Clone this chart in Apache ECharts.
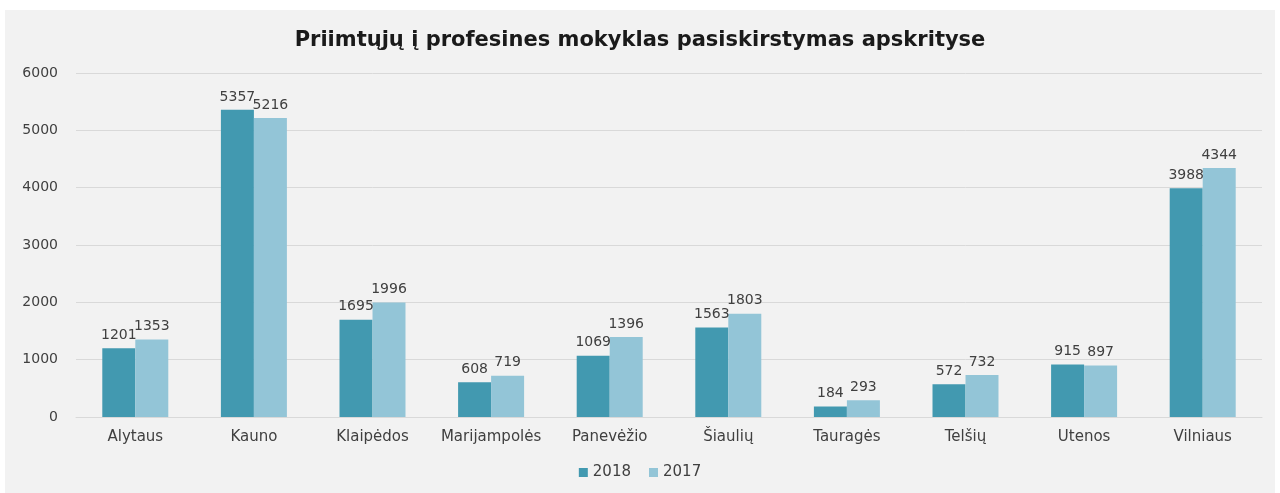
<!DOCTYPE html>
<html><head><meta charset="utf-8">
<script src="https://cdn.jsdelivr.net/npm/echarts@6/dist/echarts.min.js"></script>
<style>html,body{margin:0;padding:0;background:#fff;}#wrap{position:absolute;left:5px;top:10px;width:1270px;height:483px;background:#f2f2f2;}#c{width:1270px;height:483px;}</style>
</head><body><div id="wrap"><div id="c"></div></div>
<script>
const categories = ['Alytaus','Kauno','Klaipėdos','Marijampolės','Panevėžio','Šiaulių','Tauragės','Telšių','Utenos','Vilniaus'];
const values2018 = [1201,5357,1695,608,1069,1563,184,572,915,3988];
const values2017 = [1353,5216,1996,719,1396,1803,293,732,897,4344];
const yTicks = [0,1000,2000,3000,4000,5000,6000];
const chart = echarts.init(document.getElementById('c'));
const font = 'DejaVu Sans, sans-serif';
chart.setOption({
  backgroundColor: '#f2f2f2',
  animation: false,
  title: {text: 'Priimtųjų į profesines mokyklas pasiskirstymas apskrityse', left: 'center', top: 15,
    textStyle: {fontFamily: font, fontWeight: 'bold', fontSize: 21, color: '#1a1a1a'}},
  legend: {bottom: 8, left: 'center', itemWidth: 9, itemHeight: 9, itemGap: 18, icon: 'rect',
    textStyle: {fontFamily: font, fontSize: 15, color: '#404040'},
    data: ['2018','2017']},
  grid: {left: 71, right: 13, top: 63, bottom: 76},
  xAxis: {type: 'category', data: categories,
    axisLine: {lineStyle: {color: '#d9d9d9'}}, axisTick: {show: false},
    axisLabel: {interval: 0, fontFamily: font, fontSize: 15, color: '#404040', margin: 13}},
  yAxis: {type: 'value', min: yTicks[0], max: yTicks[yTicks.length-1], interval: 1000,
    axisLine: {show: false}, axisTick: {show: false},
    splitLine: {lineStyle: {color: '#d9d9d9'}},
    axisLabel: {fontFamily: font, fontSize: 14, color: '#404040', margin: 18, formatter: v => String(v)}},
  series: [
    {name: '2018', type: 'bar', data: values2018, barWidth: 33, barGap: '0%',
      itemStyle: {color: '#4299b0'},
      label: {show: true, position: 'top', fontFamily: font, fontSize: 14, color: '#404040', distance: 6}},
    {name: '2017', type: 'bar', data: values2017, barWidth: 33,
      itemStyle: {color: '#93c5d7'},
      label: {show: true, position: 'top', fontFamily: font, fontSize: 14, color: '#404040', distance: 6}}
  ]
});
</script></body></html>
